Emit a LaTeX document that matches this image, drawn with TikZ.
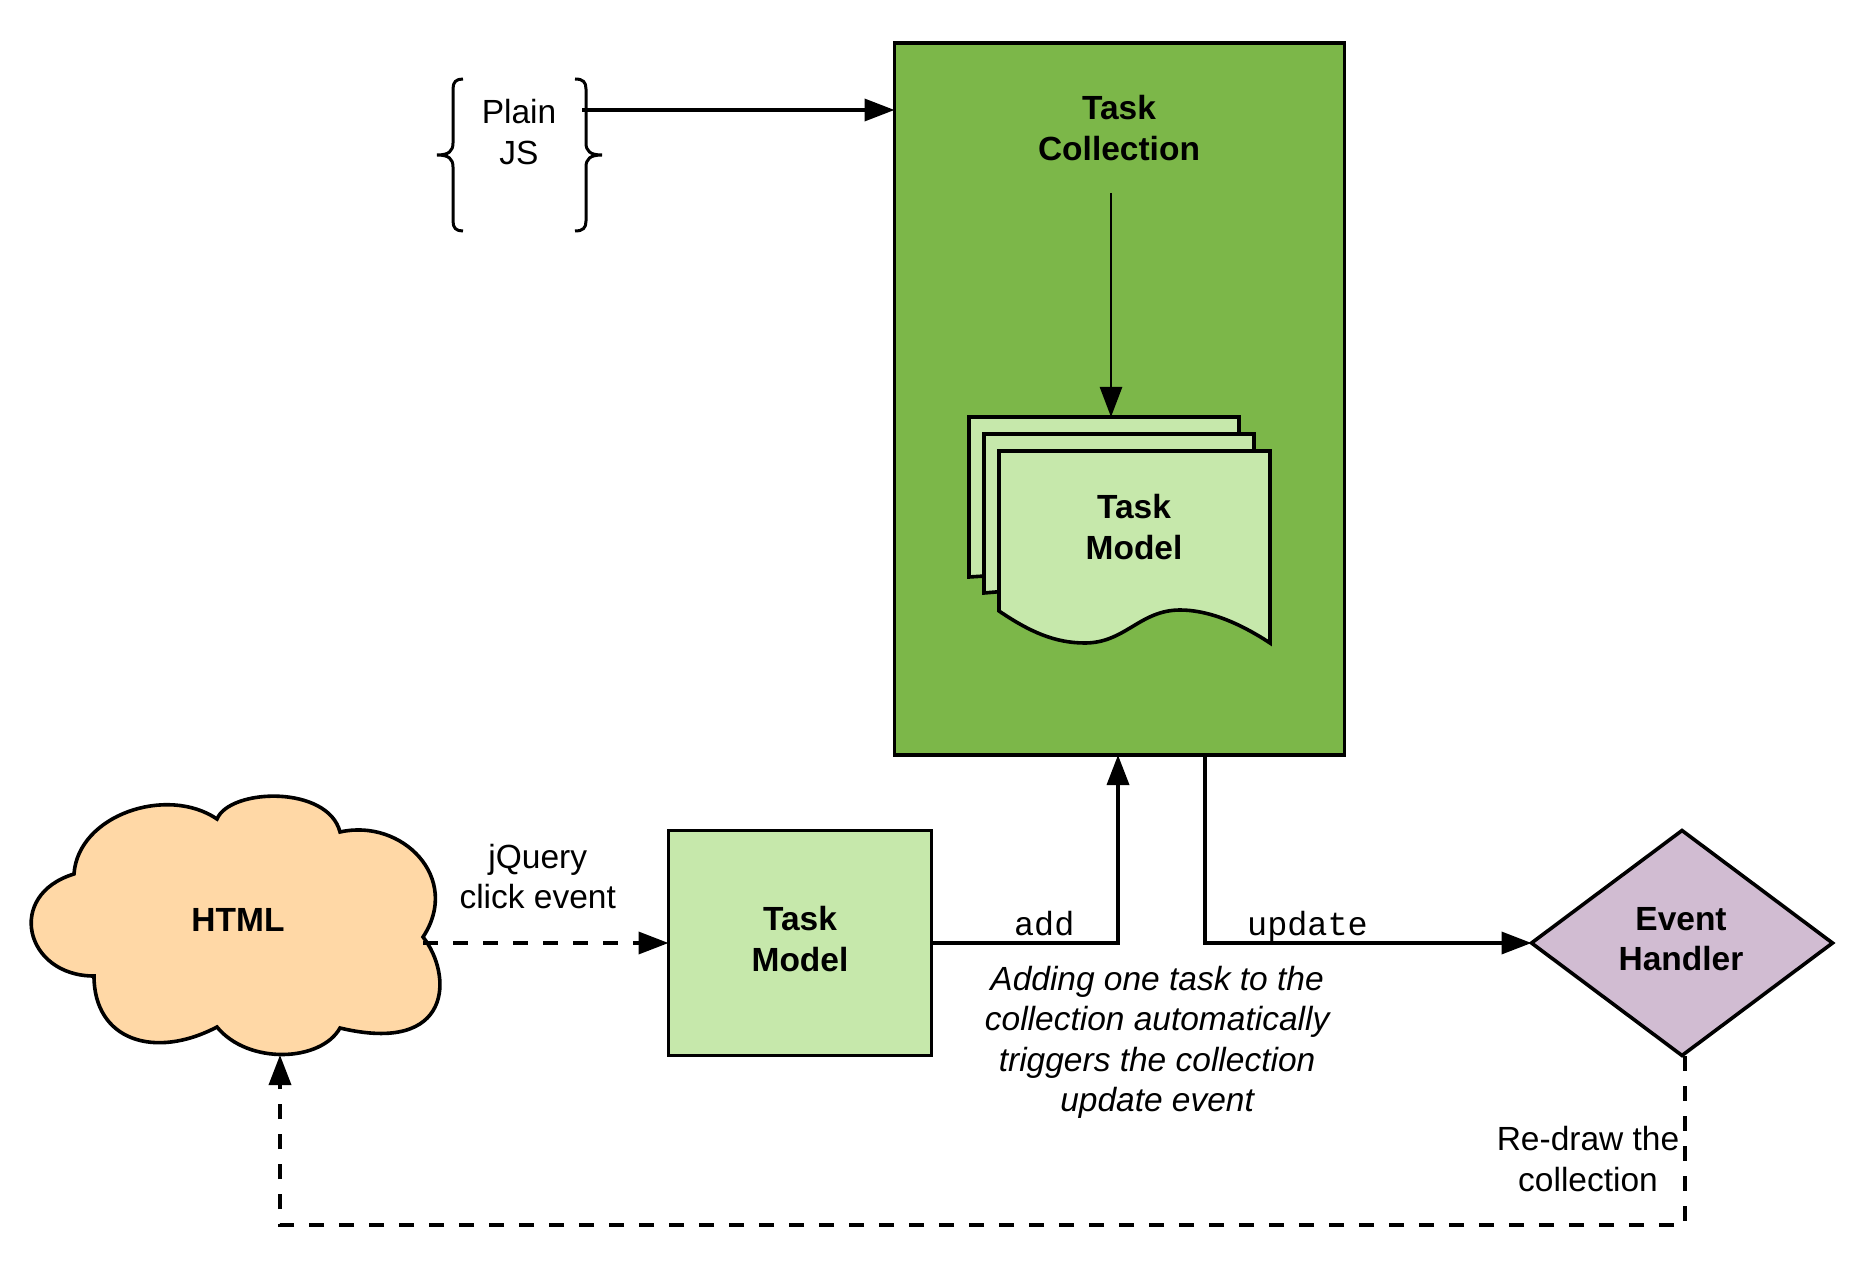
\documentclass[tikz,border=0pt]{standalone}
\usepackage{fontspec}
\setmainfont{Liberation Sans}
\setmonofont{Liberation Mono}
\usepackage{xcolor}
\usepackage{tikz}
\usetikzlibrary{positioning,shapes.geometric,arrows.meta}
\definecolor{collgreen}{HTML}{7CB749}
\definecolor{modelgreen}{HTML}{C6E8AB}
\definecolor{cloudorange}{HTML}{FFD8A6}
\definecolor{handlerpurple}{HTML}{D1BCD2}

\begin{document}
\begin{tikzpicture}[
    x=0.5pt, y=-0.5pt,
    every node/.style={font=\fontsize{16.75}{20.25}\selectfont, align=center, inner sep=0pt, outer sep=0pt},
    line/.style={line width=1.8pt},
    box/.style={draw, line width=1.8pt},
    page/.style={draw, line width=1.8pt, fill=modelgreen},
    dashline/.style={line width=1.8pt, dash pattern=on 7.5pt off 7.5pt},
    >={Triangle[length=15pt,width=11pt]}
  ]
  \useasboundingbox (0,0) rectangle (1868,1267);

  % Nodes
  \node[box, fill=collgreen, minimum width=225pt, minimum height=356pt] (C) at (1119.5,399) {};
  \node[box, fill=modelgreen, minimum width=131.5pt, minimum height=112.5pt] (T) at (800,943) {};
  \node[box, fill=handlerpurple, diamond, aspect=1.34, minimum width=150.5pt, minimum height=112.5pt, right=300pt of T] (E) {};
  \coordinate (S) at (1111,417);
  \coordinate (JS) at (582,110);
  \coordinate (CE) at (423,943);
  \coordinate (CS) at (280,1055);
  \coordinate (AU) at (1205,755);
  \coordinate (RB) at (1685,1225);
  \coordinate (RL) at (280,1225);

  % Cloud
  \draw[box, fill=cloudorange] (74,874)
    .. controls (78,815) and (167,785) .. (217,819)
    .. controls (230,788) and (328,785) .. (340,832)
    .. controls (402,818) and (462,878) .. (423,937)
    .. controls (453,975) and (453,1055) .. (340,1028)
    .. controls (321,1062) and (248,1065) .. (217,1027)
    .. controls (154,1060) and (94,1040) .. (94,976)
    .. controls (25,976) and (5,895) .. (74,874) -- cycle;

  % Braces
  \draw[line, line width=1.5pt] (463,79) .. controls (456,79) and (453,82) .. (453,89) -- (453,143)
    .. controls (453,151) and (449,155) .. (437,155)
    .. controls (449,155) and (453,159) .. (453,167) -- (453,221)
    .. controls (453,228) and (456,231) .. (463,231);
  \draw[line, line width=1.5pt] (575,79) .. controls (583,79) and (586,82) .. (586,89) -- (586,143)
    .. controls (586,151) and (590,155) .. (602,155)
    .. controls (590,155) and (586,159) .. (586,167) -- (586,221)
    .. controls (586,228) and (583,231) .. (575,231);

  % Pages
  \draw[page] (969,417) -- (1239,417) -- (1239,560) -- (969,577) -- cycle;
  \draw[page] (984,434) -- (1254,434) -- (1254,570) -- (984,593) -- cycle;
  \draw[page] (999,451) -- (1270,451) -- (1270,643)
    .. controls (1235,620) and (1205,610) .. (1180,610)
    .. controls (1140,610) and (1125,643) .. (1085,643)
    .. controls (1055,643) and (1030,632) .. (999,611) -- cycle;

  % Node labels
  \node (CL) at (1119,128) {\textbf{Task}\\\textbf{Collection}};
  \node (PL) at (1134,527) {\textbf{Task}\\\textbf{Model}};
  \node (TL) at (800,939) {\textbf{Task}\\\textbf{Model}};
  \node (EL) at (1681,939) {\textbf{Event}\\\textbf{Handler}};
  \node (HL) at (238,920) {\textbf{HTML}};
  \node (JL) at (519,132) {Plain\\JS};

  % Arrows with labels
  \draw[->, line width=1.3pt] (1111,193) -- (S);
  \draw[->, line] (JS) -- (C.west |- JS);
  \draw[->, dashline] (CE) -- (T.west) node[midway, above=17pt, xshift=-4pt] (QL) {jQuery\\click event};
  \draw[->, line] (T.east) -| (1118,755) node[pos=0.27, above=3.5pt, xshift=6pt] (AL) {\ttfamily add};
  \draw[->, line] (AU) |- (E.west) node[pos=0.66, above=0.5pt, xshift=-1pt] (UL) {\ttfamily update};
  \draw[->, dashline] (1685,1056) -- (RB) -- (RL) -- (CS);
  \node[below=11.5pt of T.east, anchor=north, xshift=112.8pt] (NL) {\itshape Adding one task to the\\\itshape collection automatically\\\itshape triggers the collection\\\itshape update event};
  \node (RD) at (1588,1159) {Re-draw the\\collection};
\end{tikzpicture}
\end{document}
